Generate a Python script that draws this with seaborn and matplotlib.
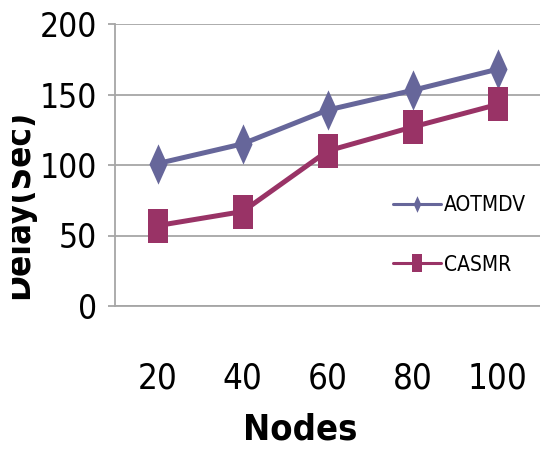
import numpy as np
import pandas as pd
import matplotlib
matplotlib.use("Agg")
import matplotlib.pyplot as plt
from matplotlib.lines import Line2D
from matplotlib.transforms import Bbox, TransformedBbox
import seaborn as sns

# chart values
nodes = ["20", "40", "60", "80", "100"]
aotmdv = [101, 115, 139, 153, 168]
casmr = [57, 67, 110, 127, 143]
y_ticks = [0, 50, 100, 150, 200]

sns.set_style("white")
plt.rcParams["font.family"] = ["Liberation Sans Narrow", "DejaVu Sans"]
plt.rcParams["font.stretch"] = "condensed"
plt.rcParams["text.color"] = "black"
plt.rcParams["xtick.color"] = "black"
plt.rcParams["ytick.color"] = "black"

df = pd.DataFrame({
    "Nodes": nodes * 2,
    "Delay": aotmdv + casmr,
    "Protocol": ["AOTMDV"] * 5 + ["CASMR"] * 5,
})

blue = "#66669a"
plum = "#993366"
grey = "#a6a6a6"
diamond = [(0, 1), (0.45, 0), (0, -1), (-0.45, 0), (0, 1)]
block = [(-0.55, -1), (0.55, -1), (0.55, 1), (-0.55, 1), (-0.55, -1)]

fig = plt.figure(figsize=(5.4, 4.51), dpi=100)
ax = fig.add_axes([115 / 540, 1 - 306 / 451, 425.5 / 540, 282 / 451])

sns.lineplot(data=df[df.Protocol == "AOTMDV"], x="Nodes", y="Delay", sort=False,
             color=blue, linewidth=3.6, marker=diamond, markersize=29, mew=0, ax=ax)
sns.lineplot(data=df[df.Protocol == "CASMR"], x="Nodes", y="Delay", sort=False,
             color=plum, linewidth=3.6, marker=block, markersize=25, mew=0, ax=ax)

ax.set_xlim(-0.5, 4.5)
ax.set_ylim(0, 200)
ax.set_yticks(y_ticks)
ax.set_xticks(range(len(nodes)))
ax.set_xticklabels(nodes)
ax.set_xticks(np.arange(-0.5, len(nodes), 1), minor=True)
ax.yaxis.grid(True, color=grey, linewidth=1.3)
ax.set_axisbelow(True)

for s in ["top", "right"]:
    ax.spines[s].set_visible(False)
for s in ["left", "bottom"]:
    ax.spines[s].set_color(grey)
    ax.spines[s].set_linewidth(1.3)

ax.tick_params(axis="x", which="major", length=0, pad=40, labelsize=25)
ax.tick_params(axis="x", which="minor", length=11.5, width=1.3, color=grey, direction="out")
ax.tick_params(axis="y", length=5, width=1.3, color=grey, labelcolor="black",
               pad=8, labelsize=24, left=True)

ax.set_xlabel("")
ax.set_ylabel("")
fig.text(300 / 540, 1 - 430 / 451, "Nodes", ha="center", va="center",
         fontsize=26, fontweight="bold")
ylab = fig.text(35 / 540, 1 - 204 / 451, "Delay(Sec)", rotation=90, ha="right",
                va="center", fontsize=25, fontweight="bold")
# the original label is cut off on its left side
ylab.set_clip_box(TransformedBbox(Bbox([[12 / 540, 0], [1, 1]]), fig.transFigure))
ylab.set_clip_on(True)

handles = [
    Line2D([], [], color=blue, linewidth=2.2, marker=diamond, markersize=12, mew=0),
    Line2D([], [], color=plum, linewidth=2.2, marker=block, markersize=13, mew=0),
]
ax.legend(handles, ["AOTMDV", "CASMR"], loc="upper left",
          bbox_to_anchor=(393 / 540, 1 - 195 / 451), bbox_transform=fig.transFigure,
          frameon=False, fontsize=15, handlelength=2.3, handletextpad=0.15,
          labelspacing=1.9, borderpad=0, borderaxespad=0)

fig.savefig("out.png", dpi=100)
